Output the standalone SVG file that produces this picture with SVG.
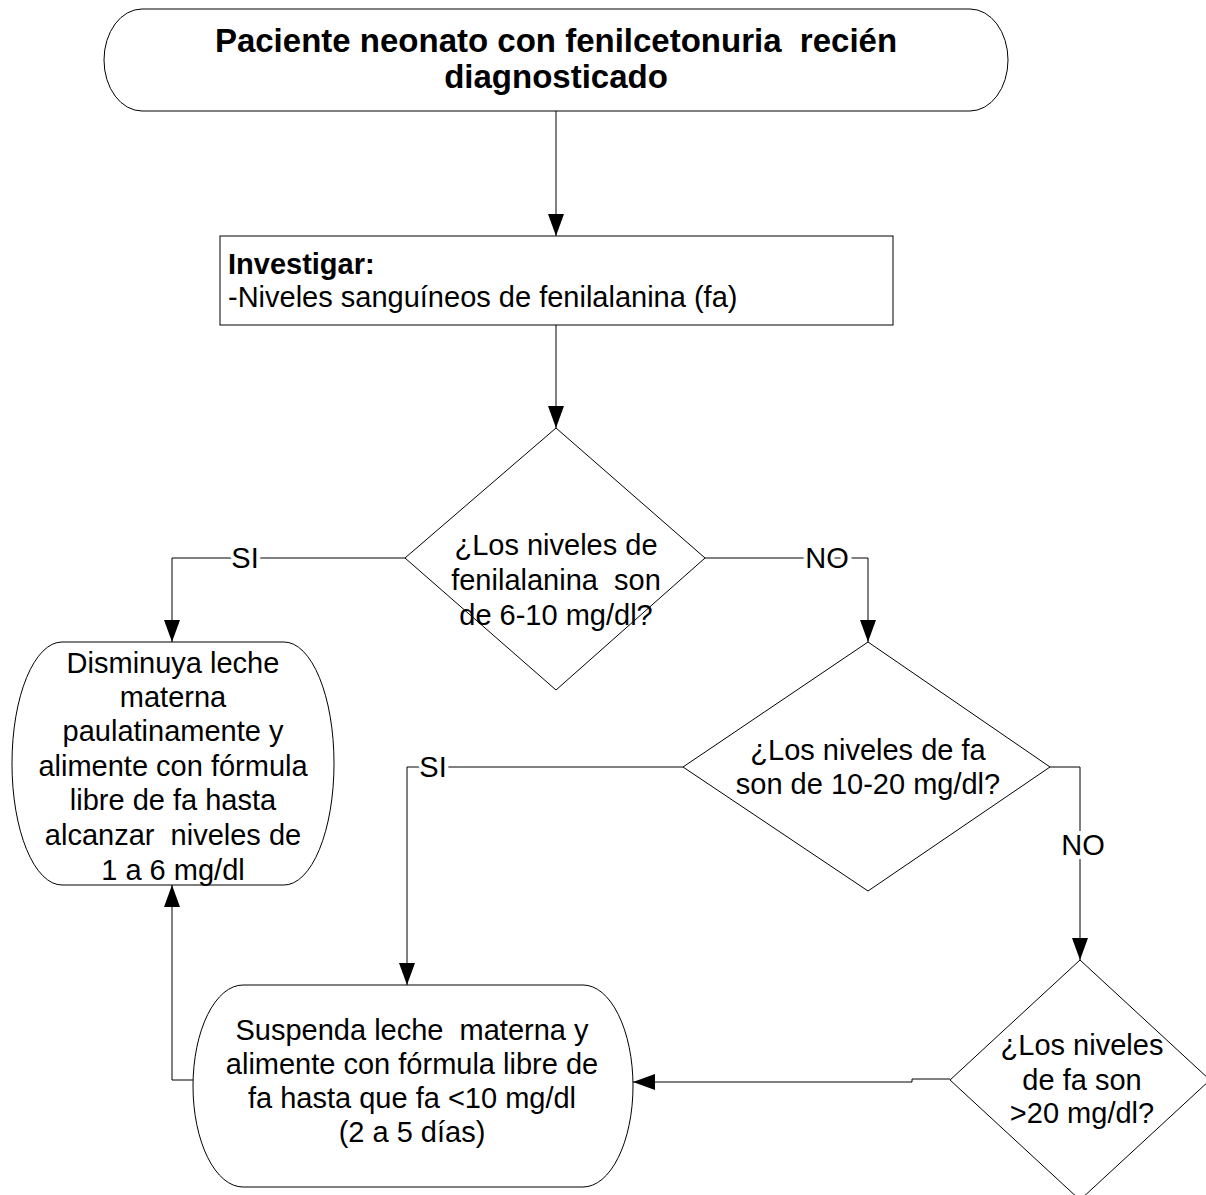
<svg xmlns="http://www.w3.org/2000/svg" width="1206" height="1195" viewBox="0 0 1206 1195">
<style>
.shape{fill:#fff;stroke:#000;stroke-width:1}
text{white-space:pre}
.t{font-family:"Liberation Sans",Arial,sans-serif;font-size:29px;fill:#000;text-anchor:middle}
.b{font-weight:bold}
.lbl{font-family:"Liberation Sans",Arial,sans-serif;font-size:29px;fill:#000;text-anchor:middle;stroke:#fff;stroke-width:8px;paint-order:stroke}
.c{fill:none;stroke:#000;stroke-width:1}
</style>
<defs>
<marker id="ah" markerUnits="userSpaceOnUse" markerWidth="22" markerHeight="16" refX="22" refY="8" orient="auto">
<path d="M0,0 L22,8 L0,16 Z" fill="#000"/>
</marker>
</defs>
<rect width="1206" height="1195" fill="#fff"/>
<g id="connectors">
<path class="c" d="M556,111 V236" marker-end="url(#ah)"/>
<path class="c" d="M556,325 V428" marker-end="url(#ah)"/>
<path class="c" d="M405,558 H172 V642" marker-end="url(#ah)"/>
<path class="c" d="M705,558 H868 V642" marker-end="url(#ah)"/>
<path class="c" d="M683,767 H407 V985" marker-end="url(#ah)"/>
<path class="c" d="M1050,767 H1080 V960" marker-end="url(#ah)"/>
<path class="c" d="M950,1079 H912 V1082 H633" marker-end="url(#ah)"/>
<path class="c" d="M193,1080 H172 V885" marker-end="url(#ah)"/>
<text class="lbl" x="245" y="568">SI</text>
<text class="lbl" x="827" y="568">NO</text>
<text class="lbl" x="433" y="777">SI</text>
<text class="lbl" x="1083" y="855">NO</text>
</g>
<g id="start">
<rect class="shape" x="104" y="9" width="904" height="102" rx="38" ry="51"/>
<text class="t b" style="font-size:33px" x="556" y="52">Paciente neonato con fenilcetonuria  recién</text>
<text class="t b" style="font-size:33px" x="556" y="88">diagnosticado</text>
</g>
<g id="investigar">
<rect class="shape" x="220" y="236" width="673" height="89"/>
<text class="t b" style="text-anchor:start" x="228" y="274">Investigar:</text>
<text class="t" style="text-anchor:start" x="228" y="307">-Niveles sanguíneos de fenilalanina (fa)</text>
</g>
<g id="decision1">
<polygon class="shape" points="556,428 705,558 556,690 405,558"/>
<text class="t" x="556" y="555">¿Los niveles de</text>
<text class="t" x="556" y="590">fenilalanina  son</text>
<text class="t" x="556" y="625">de 6-10 mg/dl?</text>
</g>
<g id="disminuya">
<rect class="shape" x="12" y="642" width="322" height="243" rx="50" ry="121"/>
<text class="t" x="173" y="673">Disminuya leche</text>
<text class="t" x="173" y="707">materna</text>
<text class="t" x="173" y="741">paulatinamente y</text>
<text class="t" x="173" y="776">alimente con fórmula</text>
<text class="t" x="173" y="810">libre de fa hasta</text>
<text class="t" x="173" y="845">alcanzar  niveles de</text>
<text class="t" x="173" y="880">1 a 6 mg/dl</text>
</g>
<g id="decision2">
<polygon class="shape" points="868,642 1050,767 868,891 683,767"/>
<text class="t" x="868" y="760">¿Los niveles de fa</text>
<text class="t" x="868" y="794">son de 10-20 mg/dl?</text>
</g>
<g id="suspenda">
<rect class="shape" x="193" y="985" width="440" height="202" rx="50" ry="101"/>
<text class="t" x="412" y="1040">Suspenda leche  materna y</text>
<text class="t" x="412" y="1074">alimente con fórmula libre de</text>
<text class="t" x="412" y="1108">fa hasta que fa &lt;10 mg/dl</text>
<text class="t" x="412" y="1142">(2 a 5 días)</text>
</g>
<g id="decision3">
<polygon class="shape" points="1080,960 1210,1080 1080,1200 950,1080"/>
<text class="t" x="1082" y="1055">¿Los niveles</text>
<text class="t" x="1082" y="1090">de fa son</text>
<text class="t" x="1082" y="1123">&gt;20 mg/dl?</text>
</g>
</svg>
